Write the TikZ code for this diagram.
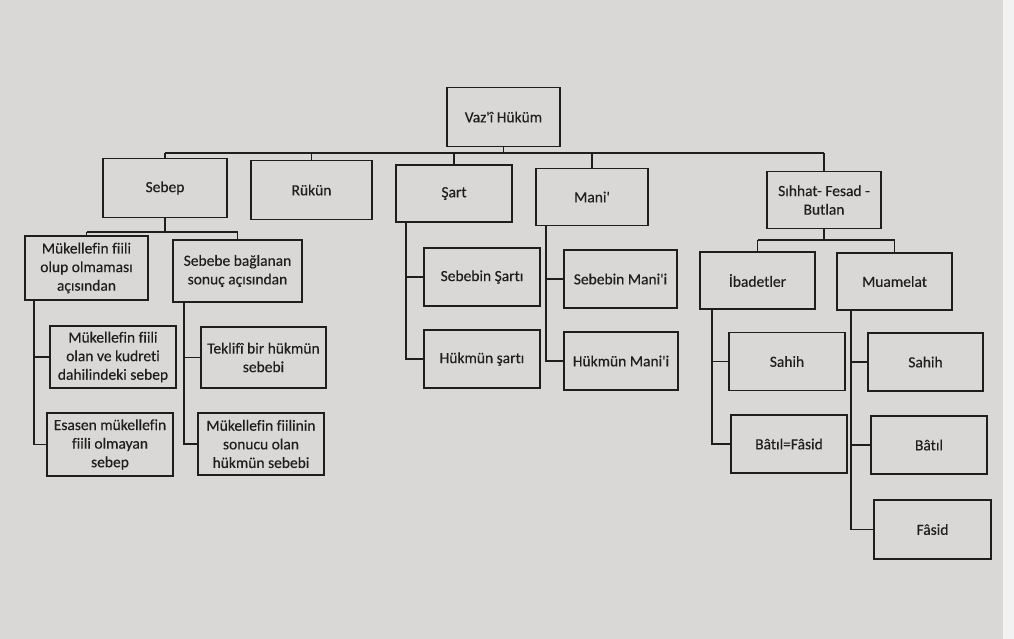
\documentclass[tikz,border=0pt]{standalone}
\usepackage{fontspec}
\setmainfont{Carlito}[Ligatures={TeXOff,NoCommon}, FakeBold=0.3]
\usetikzlibrary{calc}
\definecolor{bg}{HTML}{DAD8D6}
\definecolor{edge}{HTML}{F2F2F2}
\definecolor{ink}{HTML}{1E1E1E}
\begin{document}
\begin{tikzpicture}[x=1pt,y=-1pt,
  box/.style={draw=ink, line width=1.6pt, inner sep=1pt, align=center,
    font=\fontsize{15.5}{18.6}\selectfont, text=ink},
  conn/.style={draw=ink, line width=1.6pt}]
\fill[bg] (0,0) rectangle (1014,639);
\fill[edge] (1003,0) rectangle (1014,639);
\useasboundingbox (0,0) rectangle (1014,639);
% top
\node[box, minimum width=113pt, minimum height=59pt] (v) at (503.5,117) {Vaz'î Hüküm};
\node[box, minimum width=124pt, minimum height=59pt] (sebep) at (165,188) {Sebep};
\node[box, minimum width=121pt, minimum height=59pt] (rukun) at (311.5,190) {Rükün};
\node[box, minimum width=116pt, minimum height=57pt] (sart) at (454,193.5) {Şart};
\node[box, minimum width=112pt, minimum height=57pt] (mani) at (592,197) {Mani'};
\node[box, minimum width=114pt, minimum height=57pt] (sih) at (824,200) {Sıhhat- Fesad -\\Butlan};
% sebep children
\node[box, minimum width=123pt, minimum height=64pt] (c1) at (86.5,268) {Mükellefin fiili\\olup olmaması\\açısından};
\node[box, minimum width=129pt, minimum height=62pt] (c2) at (237.5,271) {Sebebe bağlanan\\sonuç açısından};
\node[box, minimum width=126pt, minimum height=62pt] (g1) at (113,357) {Mükellefin fiili\\olan ve kudreti\\dahilindeki sebep};
\node[box, minimum width=126pt, minimum height=63pt] (g2) at (110,444.5) {Esasen mükellefin\\fiili olmayan\\sebep};
\node[box, minimum width=125pt, minimum height=61pt] (g3) at (263.5,357.5) {Teklifî bir hükmün\\sebebi};
\node[box, minimum width=126pt, minimum height=62pt] (g4) at (261,444) {Mükellefin fiilinin\\sonucu olan\\hükmün sebebi};
% sart / mani children
\node[box, minimum width=116pt, minimum height=58pt] (ss) at (482,277) {Sebebin Şartı};
\node[box, minimum width=116pt, minimum height=58pt] (hs) at (482,359) {Hükmün şartı};
\node[box, minimum width=113pt, minimum height=58pt] (sm) at (620.5,279) {Sebebin Mani'i};
\node[box, minimum width=114pt, minimum height=58pt] (hm) at (621,361) {Hükmün Mani'i};
% sihhat children
\node[box, minimum width=115pt, minimum height=57pt] (ib) at (757.5,280.5) {İbadetler};
\node[box, minimum width=115pt, minimum height=57pt] (mu) at (894.5,281.5) {Muamelat};
\node[box, minimum width=116pt, minimum height=58pt] (ib1) at (787,361.5) {Sahih};
\node[box, minimum width=116pt, minimum height=58pt] (ib2) at (789,444) {Bâtıl=Fâsid};
\node[box, minimum width=115pt, minimum height=58pt] (mu1) at (925.5,362) {Sahih};
\node[box, minimum width=116pt, minimum height=58pt] (mu2) at (929,445) {Bâtıl};
\node[box, minimum width=117pt, minimum height=59pt] (mu3) at (932.5,529.5) {Fâsid};
% connectors: top level
\coordinate (b0) at (0,153);
\draw[conn] (v.south) -- (v.south |- b0);
\draw[conn] (sebep.north |- b0) -- (sih.north |- b0);
\foreach \n in {sebep,rukun,sart,mani,sih} \draw[conn] (\n.north) -- (\n.north |- b0);
% sebep
\coordinate (b1) at (0,232);
\draw[conn] (sebep.south) -- (sebep.south |- b1);
\draw[conn] (c1.north |- b1) -- (c2.north |- b1);
\draw[conn] (c1.north) -- (c1.north |- b1);
\draw[conn] (c2.north) -- (c2.north |- b1);
\coordinate (k1) at ($(c1.south west)+(10,0)$);
\coordinate (k2) at ($(c2.south west)+(12,0)$);
\draw[conn] (k1) |- (g1.west);
\draw[conn] (k1) |- (g2.west);
\draw[conn] (k2) |- (g3.west);
\draw[conn] (k2) |- (g4.west);
% sart, mani
\coordinate (k3) at ($(sart.south west)+(11,0)$);
\coordinate (k4) at ($(mani.south west)+(11,0)$);
\draw[conn] (k3) |- (ss.west);
\draw[conn] (k3) |- (hs.west);
\draw[conn] (k4) |- (sm.west);
\draw[conn] (k4) |- (hm.west);
% sihhat
\coordinate (b2) at (0,240);
\draw[conn] (sih.south) -- (sih.south |- b2);
\draw[conn] (ib.north |- b2) -- (mu.north |- b2);
\draw[conn] (ib.north) -- (ib.north |- b2);
\draw[conn] (mu.north) -- (mu.north |- b2);
\coordinate (k5) at ($(ib.south west)+(13,0)$);
\coordinate (k6) at ($(mu.south west)+(15,0)$);
\draw[conn] (k5) |- (ib1.west);
\draw[conn] (k5) |- (ib2.west);
\draw[conn] (k6) |- (mu1.west);
\draw[conn] (k6) |- (mu2.west);
\draw[conn] (k6) |- (mu3.west);
\end{tikzpicture}
\end{document}
